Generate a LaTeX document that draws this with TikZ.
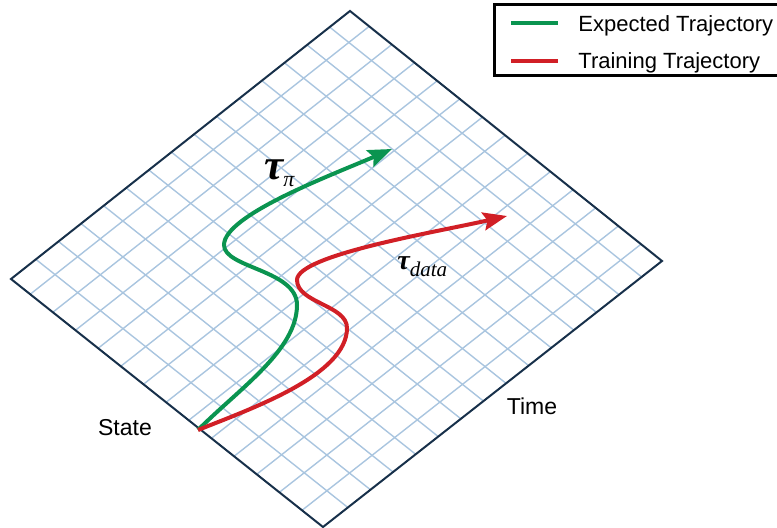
\documentclass[tikz,border=0pt]{standalone}
\usepackage{fontspec}
\setmainfont{Liberation Sans}
\newfontfamily\greekserif{Liberation Serif}
\usetikzlibrary{calc,arrows.meta}
\definecolor{gridblue}{HTML}{A9C5DF}
\definecolor{framenavy}{HTML}{17304A}
\definecolor{expgreen}{HTML}{0A9450}
\definecolor{trainred}{HTML}{D11F26}
\tikzset{
  gridline/.style={gridblue,line width=0.7pt},
  frameline/.style={framenavy,line width=1pt,line join=miter},
  traj/.style={line width=2pt,-{Stealth[length=12pt,width=9pt,inset=2pt]}},
  trajlabel/.style={anchor=base west,inner sep=0pt,font=\greekserif\itshape},
  axislabel/.style={font=\fontsize{11.5}{14}\selectfont,inner sep=0pt},
  keyline/.style={line width=2pt},
  keytext/.style={font=\fontsize{11}{13}\selectfont,anchor=base west,inner sep=0pt}
}

\begin{document}
\begin{tikzpicture}[x=0.5pt,y=-0.5pt]
\useasboundingbox (0,0) rectangle (777,528);

% Corners of the state-time plane
\coordinate (L) at (11,279);
\coordinate (T) at (350,11);
\coordinate (R) at (662,261);
\coordinate (B) at (323,527);

% Grid on the plane
\foreach \i [evaluate=\i as \t using 0.0726*\i-0.0111] in {1,...,13}
  \draw[gridline] ($(L)!\t!(B)$) -- ($(T)!\t!(R)$);
\foreach \j [evaluate=\j as \s using (\j+0.1)/15] in {1,...,14}
  \draw[gridline] ($(L)!\s!(T)$) -- ($(B)!\s!(R)$);

% Border
\draw[frameline] (L) -- (T) -- (R) -- (B) -- cycle;

% Trajectories, both from the same start
\coordinate (start) at (198,430);
\coordinate (piend) at (392,149);
\coordinate (dataend) at (507,216);

\draw[traj,expgreen] (start)
  .. controls (240,388) and (297,350) .. (297,305)
  .. controls (297,270) and (224,268) .. (224,245)
  .. controls (224,215) and (332,175) .. (piend);

\draw[traj,trainred] (start)
  .. controls (253,408) and (347,375) .. (347,328)
  .. controls (347,305) and (297,303) .. (297,280)
  .. controls (297,255) and (437,232) .. (dataend);

% Trajectory labels
\node[trajlabel] (taupi) at (264,180)
  {{\fontsize{21.5}{24}\selectfont\bfseries τ}\raisebox{-3.4pt}{\fontsize{11}{13}\selectfont π}};
\node[trajlabel] (taudata) at (397,270)
  {{\fontsize{14}{17}\selectfont\bfseries τ}\raisebox{-3.3pt}{\fontsize{10.5}{13}\selectfont data}};

% Axis names
\node[axislabel,anchor=base] (state) at (125,436) {State};
\node[axislabel,anchor=base] (time) at (532,415) {Time};

% Legend
\draw[line width=1.5pt] (494,5) rectangle (790,76);
\draw[keyline,expgreen] (511,23) -- (558,23);
\draw[keyline,trainred] (511,61) -- (558,61);
\node[keytext] (keyexp) at (578,32) {Expected Trajectory};
\node[keytext] (keytrain) at (578,69) {Training Trajectory};

\end{tikzpicture}
\end{document}
